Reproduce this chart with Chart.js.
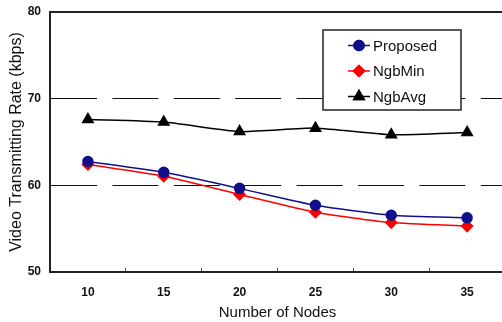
<!DOCTYPE html>
<html>
<head>
<meta charset="utf-8">
<script src="https://cdn.jsdelivr.net/npm/chart.js@4/dist/chart.umd.min.js"></script>
<style>
  html, body { margin: 0; padding: 0; background: #fff; overflow: hidden; }
  #wrap { width: 505px; height: 322px; }
</style>
</head>
<body>
<div id="wrap"><canvas id="chart" width="505" height="322"></canvas></div>
<script>
// data
const nodes = ['10', '15', '20', '25', '30', '35']
const proposed = [62.75, 61.5, 59.65, 57.7, 56.55, 56.25]
const ngbMin = [62.4, 61.05, 58.95, 56.9, 55.7, 55.3]
const ngbAvg = [67.6, 67.3, 66.2, 66.6, 65.85, 66.1]
const yTicks = [50, 60, 70, 80]

const FONT = "'Liberation Sans', Arial, sans-serif"

// legend drawn as a box inside the plot
const boxLegend = {
    id: 'boxLegend',
    afterDraw(chart) {
        const ctx = chart.ctx
        const x = 323, y = 30, w = 138, h = 80
        ctx.save()
        ctx.fillStyle = '#fff'
        ctx.fillRect(x, y, w, h)
        ctx.lineWidth = 1.5
        ctx.strokeStyle = '#222'
        ctx.strokeRect(x, y, w, h)
        ctx.font = '15px ' + FONT
        ctx.textBaseline = 'middle'
        chart.data.datasets.forEach(function (ds, i) {
            const cy = y + 15.5 + i * 25.5
            ctx.strokeStyle = ds.borderColor
            ctx.lineWidth = 1.5
            ctx.beginPath()
            ctx.moveTo(348, cy)
            ctx.lineTo(370, cy)
            ctx.stroke()
            Chart.helpers.drawPoint(ctx, {
                pointStyle: ds.pointStyle,
                radius: ds.pointRadius,
                rotation: 0,
                borderWidth: 1
            }, 359, cy)
            ctx.fillStyle = ds.pointBackgroundColor
            ctx.strokeStyle = ds.pointBorderColor
            ctx.fill()
            ctx.stroke()
            ctx.fillStyle = '#111'
            ctx.fillText(ds.label, 373, cy + 1)
        })
        ctx.restore()
    }
}

function series(label, data, color, style, r) {
    return {
        label: label,
        data: data,
        borderColor: color,
        backgroundColor: color,
        pointBackgroundColor: color,
        pointBorderColor: color,
        pointStyle: style,
        pointRadius: r,
        borderWidth: 1.5,
        tension: 0.2
    }
}

new Chart(document.getElementById('chart'), {
    type: 'line',
    data: {
        labels: nodes,
        datasets: [
            series('Proposed', proposed, '#10108a', 'circle', 5),
            series('NgbMin', ngbMin, '#ff0000', 'rectRot', 5.5),
            series('NgbAvg', ngbAvg, '#000000', 'triangle', 6)
        ]
    },
    options: {
        responsive: false,
        animation: false,
        layout: { autoPadding: false, padding: { top: 12, right: 0, left: 0, bottom: 0 } },
        plugins: { legend: { display: false }, tooltip: { enabled: false } },
        scales: {
            x: {
                type: 'category',
                offset: true,
                afterFit: function (s) {
                    s.height = 50
                    s.paddingLeft = 0
                    s.paddingRight = 0
                },
                grid: {
                    offset: true,
                    drawOnChartArea: false,
                    drawTicks: true,
                    tickLength: -4,
                    tickColor: '#555',
                    tickWidth: 1
                },
                border: { display: true, color: '#222', width: 2 },
                ticks: {
                    color: '#111',
                    padding: 17,
                    font: { family: FONT, size: 12, weight: 'bold' }
                },
                title: {
                    display: true,
                    text: 'Number of Nodes',
                    color: '#111',
                    padding: { top: 0, bottom: 0 },
                    font: { family: FONT, size: 15 }
                }
            },
            xTop: {
                type: 'category',
                position: 'top',
                labels: nodes,
                afterFit: function (s) {
                    s.height = 0
                    s.paddingLeft = 0
                    s.paddingRight = 0
                },
                grid: { display: false, drawTicks: false },
                ticks: { display: false },
                border: { display: true, color: '#222', width: 2 }
            },
            y: {
                min: 50,
                max: 80,
                afterFit: function (s) {
                    s.width = 50
                    s.paddingTop = 0
                    s.paddingBottom = 0
                },
                afterBuildTicks: function (s) {
                    s.ticks = yTicks.map(function (v) { return { value: v } })
                },
                grid: {
                    drawTicks: false,
                    lineWidth: 1,
                    color: function (c) {
                        const v = c.tick && c.tick.value
                        return (v === 60 || v === 70) ? '#111' : 'rgba(0,0,0,0)'
                    }
                },
                border: { display: true, color: '#222', width: 2, dash: [46, 15.4] },
                ticks: {
                    color: '#111',
                    padding: 9,
                    font: { family: FONT, size: 12, weight: 'bold' }
                },
                title: {
                    display: true,
                    text: 'Video Transmitting Rate (kbps)',
                    color: '#111',
                    padding: { top: 7, bottom: 0 },
                    font: { family: FONT, size: 16 }
                }
            }
        }
    },
    plugins: [boxLegend]
})
</script>
</body>
</html>
